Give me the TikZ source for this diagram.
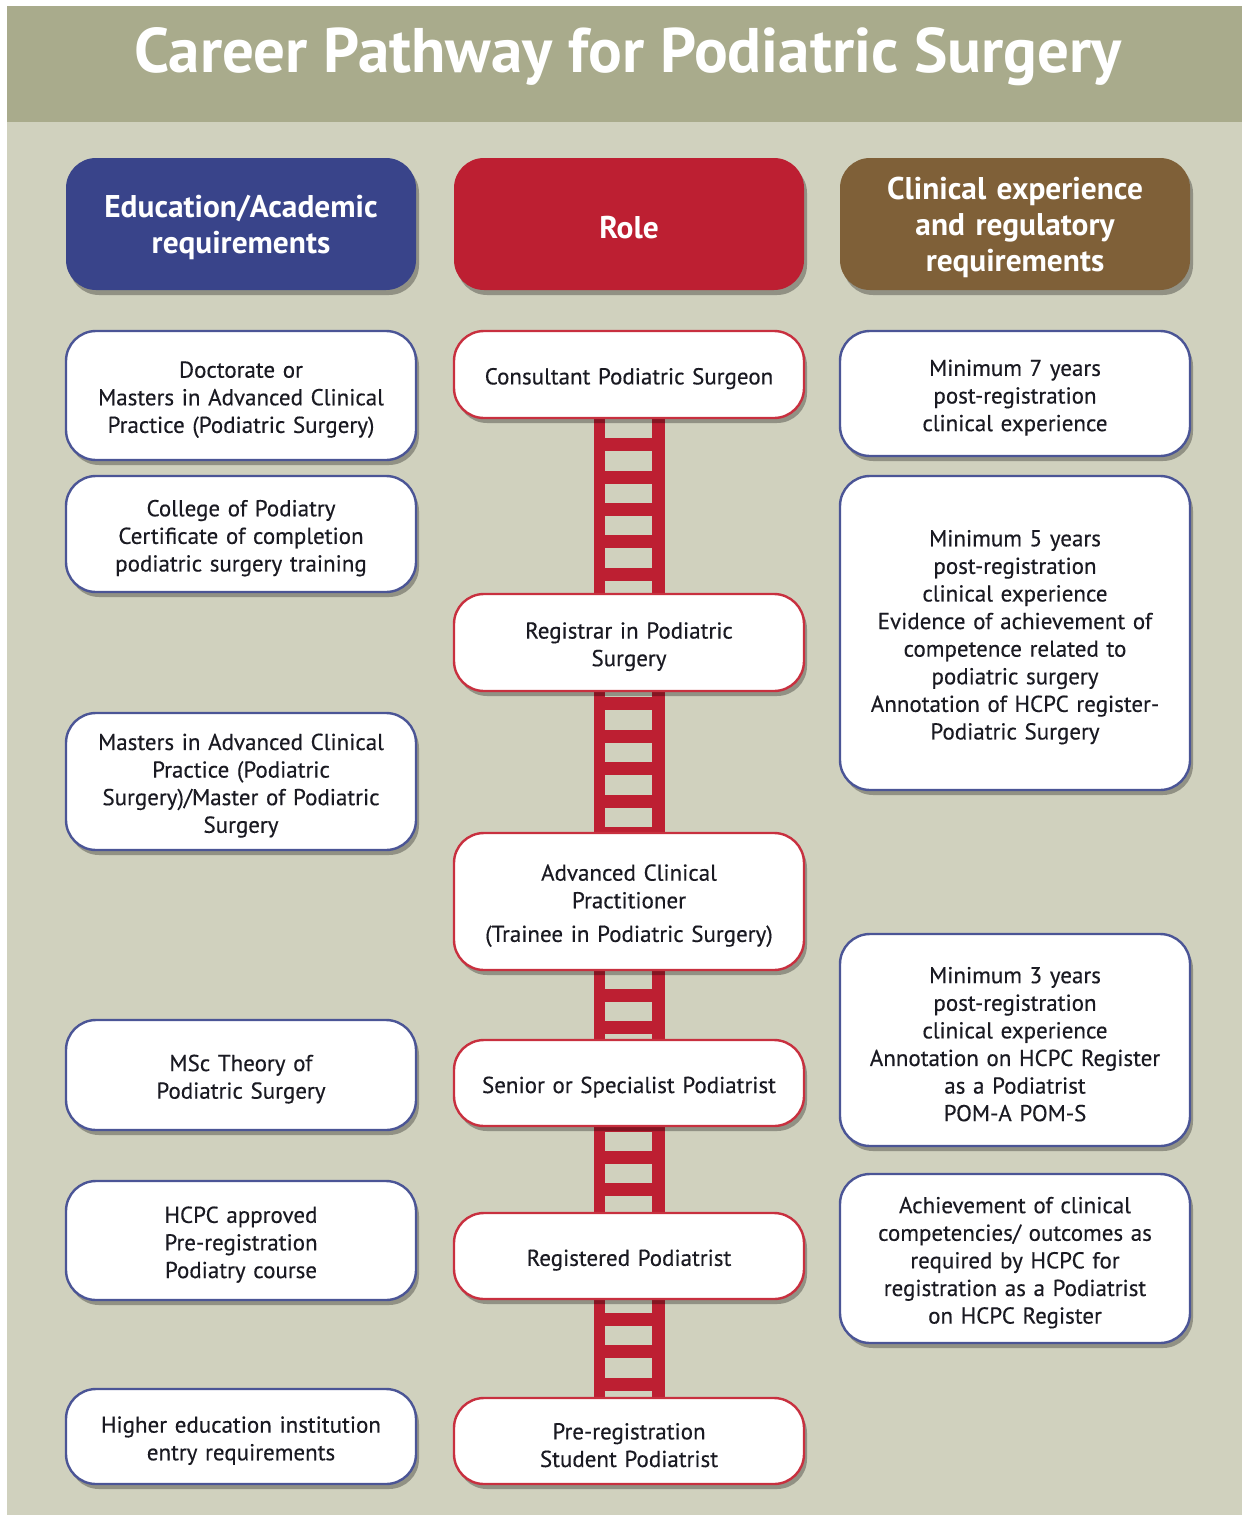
\documentclass[tikz,border=0pt]{standalone}
\usepackage{fontspec}
\setmainfont{PT Sans}[UprightFeatures={FakeBold=0.35}]
\usetikzlibrary{calc,shadows}

\pgfdeclarelayer{back}
\pgfdeclarelayer{ladder}
\pgfsetlayers{back,ladder,main}

\definecolor{bandcol}{HTML}{A9AB8C}
\definecolor{bodycol}{HTML}{D0D1BE}
\definecolor{edublue}{HTML}{39448A}
\definecolor{rolered}{HTML}{BD1F32}
\definecolor{clinbrown}{HTML}{7F6038}
\definecolor{boxblue}{HTML}{4B5596}
\definecolor{boxred}{HTML}{C8303F}
\definecolor{inktext}{HTML}{1A1A22}

\tikzset{
	softshadow/.style={drop shadow={shadow xshift=1.5pt, shadow yshift=-2.5pt, opacity=.3, fill=black}},
	pathbox/.style={rectangle, rounded corners=15pt, minimum width=175pt, text width=168pt,
		align=center, fill=white, line width=1.2pt, text=inktext, softshadow,
		font=\fontsize{11.5}{13.8}\selectfont, execute at begin node={\rule{0pt}{12.3pt}}},
	edubox/.style={pathbox, draw=boxblue},
	rolebox/.style={pathbox, draw=boxred},
	clinbox/.style={pathbox, draw=boxblue},
	headbox/.style={rectangle, rounded corners=15pt, minimum width=175pt, minimum height=66pt,
		text width=168pt, align=center, text=white, softshadow,
		font=\bfseries\fontsize{15.7}{18}\selectfont, execute at begin node={\rule{0pt}{15pt}}},
	rail/.style={fill=rolered},
}

\begin{document}
\begin{tikzpicture}[x=0.5pt, y=-0.5pt]
	\useasboundingbox (0,0) rectangle (1242,1515);

	% page and title band
	\begin{pgfonlayer}{back}
		\fill[white] (0,0) rectangle (1242,1515);
		\fill[bodycol] (7,122) rectangle (1242,1515);
		\fill[bandcol] (7,6) rectangle (1242,122);
	\end{pgfonlayer}
	\node[text=white, font=\bfseries\fontsize{31.5}{36}\selectfont] (title) at (628,57) {Career Pathway for Podiatric Surgery};

	% column headers
	\node[headbox, fill=edublue] (eduhead) at (241,224) {Education/Academic\\requirements};
	\node[headbox, fill=rolered] (rolehead) at (629,224) {Role};
	\node[headbox, fill=clinbrown] (clinhead) at (1015,224) {Clinical experience\\and regulatory\\requirements};

	% education column
	\node[edubox, minimum height=64.5pt] (doctorate) at (241,395.5) {Doctorate or\\Masters in Advanced Clinical\\Practice (Podiatric Surgery)};
	\node[edubox, minimum height=58pt] (college) at (241,534) {College of Podiatry\\Certificate of completion\\podiatric surgery training};
	\node[edubox, minimum height=68.5pt] (masters) at (241,781.5) {Masters in Advanced Clinical\\Practice (Podiatric\\Surgery)/Master of Podiatric\\Surgery};
	\node[edubox, minimum height=55pt] (msc) at (241,1075) {MSc Theory of\\Podiatric Surgery};
	\node[edubox, minimum height=59.5pt] (hcpccourse) at (241,1240.5) {HCPC approved\\Pre-registration\\Podiatry course};
	\node[edubox, minimum height=47.5pt] (entry) at (241,1436.5) {Higher education institution\\entry requirements};

	% role column
	\node[rolebox, minimum height=43.5pt] (consultant) at (629,374.5) {Consultant Podiatric Surgeon};
	\node[rolebox, minimum height=48.5pt] (registrar) at (629,642.5) {Registrar in Podiatric\\Surgery};
	\node[rolebox, minimum height=68.5pt] (acp) at (629,901.5) {Advanced Clinical\\Practitioner\\[3pt](Trainee in Podiatric Surgery)};
	\node[rolebox, minimum height=43pt] (senior) at (629,1083) {Senior or Specialist Podiatrist};
	\node[rolebox, minimum height=43pt] (registered) at (629,1256) {Registered Podiatrist};
	\node[rolebox, minimum height=43pt] (student) at (629,1441) {Pre-registration\\Student Podiatrist};

	% clinical column
	\node[clinbox, minimum height=62.5pt] (seven) at (1015,393.5) {Minimum 7 years\\post-registration\\clinical experience};
	\node[clinbox, minimum height=157pt] (five) at (1015,633) {Minimum 5 years\\post-registration\\clinical experience\\Evidence of achievement of\\competence related to\\podiatric surgery\\Annotation of HCPC register-\\Podiatric Surgery};
	\node[clinbox, minimum height=106pt] (three) at (1015,1040) {Minimum 3 years\\post-registration\\clinical experience\\Annotation on HCPC Register\\as a Podiatrist\\POM-A POM-S};
	\node[clinbox, minimum height=84.5pt] (achieve) at (1015,1258.5) {Achievement of clinical\\competencies/ outcomes as\\required by HCPC for\\registration as a Podiatrist\\on HCPC Register};

	% ladder behind the role boxes
	\begin{pgfonlayer}{ladder}
		\fill[rail] ($(consultant.south)+(-35,0)$) rectangle ($(student.north)+(-24,0)$);
		\fill[rail] ($(consultant.south)+(23,0)$) rectangle ($(student.north)+(36,0)$);
		\foreach \k in {0,...,29}
			\fill[rail] ($(consultant.south)+(-24,19+32.4*\k)$) rectangle ++(47,13);
	\end{pgfonlayer}

\end{tikzpicture}
\end{document}
